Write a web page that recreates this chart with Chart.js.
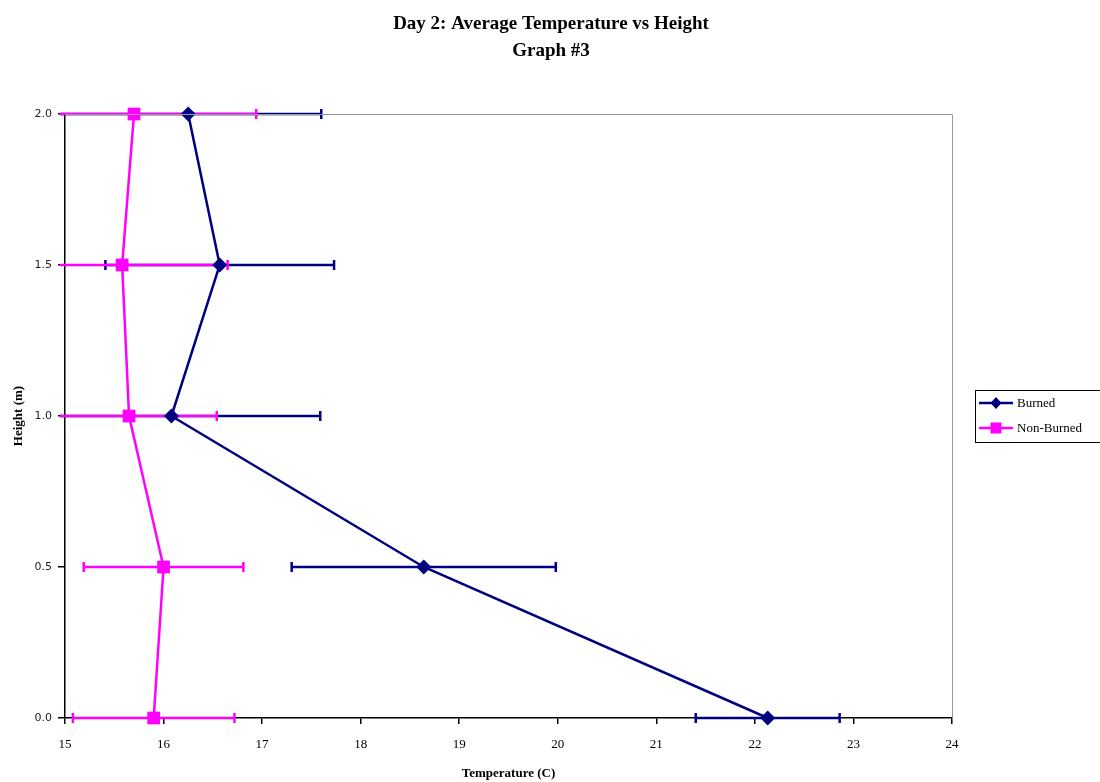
<!DOCTYPE html>
<html>
<head>
<meta charset="utf-8">
<script src="https://cdn.jsdelivr.net/npm/chart.js@4"></script>
<style>
  html, body { margin: 0; padding: 0; background: #fff; }
  #wrap { width: 1100px; height: 782px; }
</style>
</head>
<body>
<div id="wrap"><canvas id="tempChart" width="1100" height="782"></canvas></div>
<script>
// valores
const heights = [0.0, 0.5, 1.0, 1.5, 2.0];
const burnedTemp = [22.13, 18.64, 16.08, 16.57, 16.25];
const burnedErr = [0.73, 1.34, 1.51, 1.16, 1.35];
const nonBurnedTemp = [15.90, 16.00, 15.65, 15.58, 15.70];
const nonBurnedErr = [0.82, 0.81, 0.89, 1.07, 1.24];
const xTicks = [15, 16, 17, 18, 19, 20, 21, 22, 23, 24];
const yTicks = [0.0, 0.5, 1.0, 1.5, 2.0];
const titleLines = ['Day 2: Average Temperature vs Height', 'Graph #3'];

const NAVY = '#000080';
const MAGENTA = '#FF00FF';
const SERIF = '"Liberation Serif", "DejaVu Serif", serif';

function toPoints(temps) {
    return temps.map((t, i) => ({ x: t, y: heights[i] }));
}

// barras de erro horizontais, borda, título e legenda
const errorBars = {
    id: 'errorBars',
    beforeDatasetsDraw(chart) {
        const { ctx, chartArea, scales } = chart;
        const x = scales.x, y = scales.y;
        chart.data.datasets.forEach((ds) => {
            ctx.save();
            ctx.strokeStyle = ds.borderColor;
            ctx.lineWidth = 2.5;
            ds.data.forEach((p, i) => {
                const e = ds.errors[i];
                const py = y.getPixelForValue(p.y);
                let left = x.getPixelForValue(p.x - e);
                let right = x.getPixelForValue(p.x + e);
                const capL = left >= chartArea.left;
                const capR = right <= chartArea.right;
                if (!capL) left = chartArea.left - 5;
                if (!capR) right = chartArea.right;
                ctx.beginPath();
                ctx.moveTo(left, py);
                ctx.lineTo(right, py);
                if (capL) { ctx.moveTo(left, py - 5); ctx.lineTo(left, py + 5); }
                if (capR) { ctx.moveTo(right, py - 5); ctx.lineTo(right, py + 5); }
                ctx.stroke();
            });
            ctx.restore();
        });
    },
    afterDraw(chart) {
        const { ctx, chartArea } = chart;
        ctx.save();
        // título
        ctx.fillStyle = '#000';
        ctx.font = 'bold 19px ' + SERIF;
        ctx.textAlign = 'center';
        ctx.textBaseline = 'middle';
        titleLines.forEach((t, i) => ctx.fillText(t, 551, 24 + i * 27));

        // borda cinza do plot (topo e direita)
        ctx.strokeStyle = '#999';
        ctx.lineWidth = 1;
        ctx.beginPath();
        ctx.moveTo(chartArea.left, chartArea.top + 0.5);
        ctx.lineTo(chartArea.right + 0.5, chartArea.top + 0.5);
        ctx.lineTo(chartArea.right + 0.5, chartArea.bottom);
        ctx.stroke();

        // legenda
        const bx = 975, by = 390;
        ctx.textAlign = 'left';
        ctx.strokeStyle = '#000';
        ctx.lineWidth = 1;
        ctx.strokeRect(bx + 0.5, by + 0.5, 140, 52);
        ctx.font = '13px ' + SERIF;
        chart.data.datasets.forEach((ds, i) => {
            const ly = by + 13 + i * 25;
            ctx.strokeStyle = ds.borderColor;
            ctx.lineWidth = 2.5;
            ctx.beginPath();
            ctx.moveTo(bx + 4, ly);
            ctx.lineTo(bx + 38, ly);
            ctx.stroke();
            ctx.fillStyle = ds.borderColor;
            const mx = bx + 21;
            if (ds.pointStyle === 'rectRot') {
                ctx.beginPath();
                ctx.moveTo(mx, ly - 6);
                ctx.lineTo(mx + 5.5, ly);
                ctx.lineTo(mx, ly + 6);
                ctx.lineTo(mx - 5.5, ly);
                ctx.closePath();
                ctx.fill();
            } else {
                ctx.fillRect(mx - 5.5, ly - 5.5, 11, 11);
            }
            ctx.fillStyle = '#000';
            ctx.fillText(ds.label, bx + 42, ly + 1);
        });
        ctx.restore();
    }
};

const data = {
    datasets: [
        {
            label: 'Burned',
            data: toPoints(burnedTemp),
            errors: burnedErr,
            borderColor: NAVY,
            backgroundColor: NAVY,
            borderWidth: 2.5,
            pointStyle: 'rectRot',
            pointRadius: 7.5,
            pointBorderWidth: 0,
            showLine: true,
            tension: 0,
            clip: false
        },
        {
            label: 'Non-Burned',
            data: toPoints(nonBurnedTemp),
            errors: nonBurnedErr,
            borderColor: MAGENTA,
            backgroundColor: MAGENTA,
            borderWidth: 2.5,
            pointStyle: 'rect',
            pointRadius: 9,
            pointBorderWidth: 0,
            showLine: true,
            tension: 0,
            clip: false
        }
    ]
};

const config = {
    type: 'scatter',
    data: data,
    plugins: [errorBars],
    options: {
        responsive: false,
        animation: false,
        layout: { padding: { left: 11, right: 148, top: 114, bottom: 0 } },
        plugins: {
            legend: { display: false },
            tooltip: { enabled: false },
            title: { display: false }
        },
        scales: {
            x: {
                type: 'linear',
                min: 15,
                max: 24,
                afterBuildTicks: (s) => { s.ticks = xTicks.map(v => ({ value: v })); },
                ticks: {
                    color: '#000',
                    font: { family: SERIF, size: 13 },
                    padding: 13,
                    maxRotation: 0
                },
                grid: { display: true, drawOnChartArea: false, drawTicks: true, tickLength: 6, color: '#000', lineWidth: 1.5 },
                border: { color: '#000', width: 1.5 },
                title: {
                    display: true,
                    text: 'Temperature (C)',
                    color: '#000',
                    font: { family: SERIF, size: 13, weight: 'bold' },
                    padding: { top: 8, bottom: 1 }
                },
                afterFit: (s) => { s.height = 64; }
            },
            y: {
                type: 'linear',
                min: 0,
                max: 2,
                afterBuildTicks: (s) => { s.ticks = yTicks.map(v => ({ value: v })); },
                ticks: {
                    color: '#222',
                    font: { family: '"DejaVu Sans", sans-serif', size: 11 },
                    padding: 6,
                    callback: (v) => Number(v).toFixed(1)
                },
                grid: { display: true, drawOnChartArea: false, drawTicks: true, tickLength: 7, color: '#000', lineWidth: 1.5 },
                border: { color: '#000', width: 1.5 },
                title: {
                    display: true,
                    text: 'Height (m)',
                    color: '#000',
                    font: { family: SERIF, size: 13, weight: 'bold' },
                    padding: { top: 0, bottom: 4 }
                },
                afterFit: (s) => { s.width = 54; }
            }
        }
    }
};

const ctx = document.getElementById('tempChart').getContext('2d');
const tempChart = new Chart(ctx, config);
</script>
</body>
</html>
